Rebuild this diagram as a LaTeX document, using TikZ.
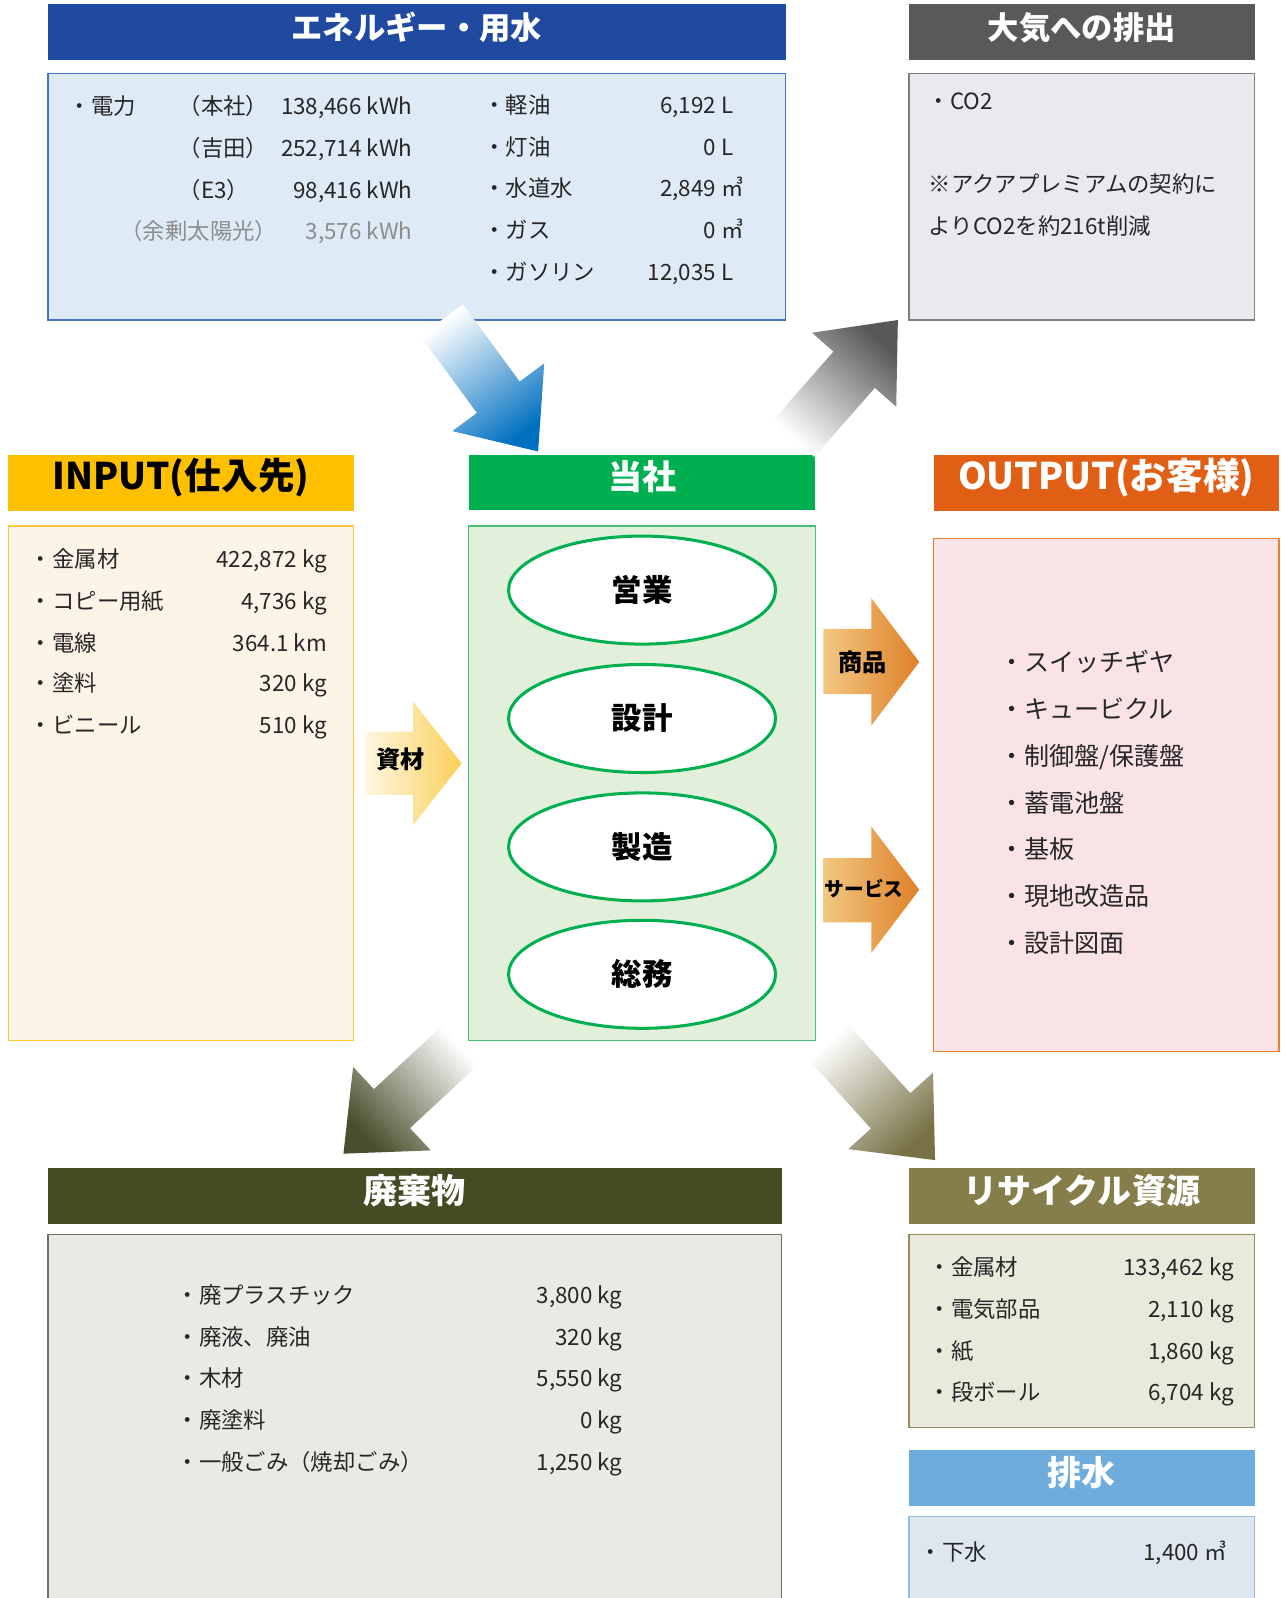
\documentclass[tikz,border=0pt]{standalone}
\usepackage{fontspec}
\setmainfont{Noto Sans CJK JP}
\usetikzlibrary{shapes.geometric}

\definecolor{engblue}{RGB}{32,73,160}
\definecolor{engline}{RGB}{68,114,196}
\definecolor{engfill}{RGB}{222,234,246}
\definecolor{airgray}{RGB}{89,89,89}
\definecolor{airline}{RGB}{127,127,127}
\definecolor{airfill}{RGB}{233,233,239}
\definecolor{inyellow}{RGB}{255,192,0}
\definecolor{inline}{RGB}{255,200,60}
\definecolor{infill}{RGB}{253,243,231}
\definecolor{cogreen}{RGB}{0,176,80}
\definecolor{coline}{RGB}{70,190,115}
\definecolor{cofill}{RGB}{226,239,218}
\definecolor{outorange}{RGB}{225,95,20}
\definecolor{outline}{RGB}{237,125,49}
\definecolor{outfill}{RGB}{250,227,230}
\definecolor{wasteolive}{RGB}{69,76,36}
\definecolor{wasteline}{RGB}{110,115,85}
\definecolor{wastefill}{RGB}{232,235,229}
\definecolor{recyolive}{RGB}{133,125,74}
\definecolor{recyline}{RGB}{150,140,90}
\definecolor{recyfill}{RGB}{233,234,220}
\definecolor{waterblue}{RGB}{111,172,222}
\definecolor{waterline}{RGB}{140,190,235}
\definecolor{waterfill}{RGB}{222,230,239}
\definecolor{inkgray}{RGB}{38,38,38}
\definecolor{surplus}{RGB}{140,140,140}
\definecolor{arrblue}{RGB}{0,112,192}
\definecolor{arrgray}{RGB}{88,88,88}
\definecolor{arrwaste}{RGB}{72,80,45}
\definecolor{arrrecy}{RGB}{120,114,70}

\begin{document}
\begin{tikzpicture}[x=0.02cm, y=-0.02cm,
  bar/.style={inner sep=0pt, outer sep=0pt, text=white, text height=0.92em, text depth=0.1em, font=\bfseries\fontsize{19}{22}\selectfont},
  panel/.style={draw, line width=0.7pt, inner sep=0pt, outer sep=0pt},
  entry/.style={anchor=west, inner sep=0pt, text=inkgray, text height=1em, text depth=0em, font=\fontsize{12.5}{15}\selectfont},
  amount/.style={entry, anchor=east},
  goods/.style={entry, font=\fontsize{14}{17}\selectfont},
  dept/.style={ellipse, draw=cogreen, line width=1.7pt, fill=white, inner sep=0pt, minimum width=5.24cm, minimum height=2.12cm, font=\bfseries\fontsize{17}{20}\selectfont},
  tag/.style={inner sep=0pt, font=\bfseries\fontsize{13.5}{16}\selectfont}]

\fill[white] (0,0) rectangle (1256,1568);
\useasboundingbox (0,0) rectangle (1256,1568);

% energy and water in
\node[bar, fill=engblue, minimum width=14.48cm, minimum height=1.1cm, font=\bfseries\fontsize{17.5}{20}\selectfont] (enghdr) at (409,31.5) {エネルギー・用水};
\node[panel, draw=engline, fill=engfill, minimum width=14.48cm, minimum height=4.84cm] (engbox) at (409,193) {};
\node[entry] (pw) at (67,104) {・電力};
\node[entry] (pw1) at (175,104) {（本社）};
\node[amount] (pw1v) at (405,104) {138,466 kWh};
\node[entry] (pw2) at (175,145) {（吉田）};
\node[amount] (pw2v) at (405,145) {252,714 kWh};
\node[entry] (pw3) at (175,186) {（E3）};
\node[amount] (pw3v) at (405,186) {98,416 kWh};
\node[entry, text=surplus] (pw4) at (118,226) {（余剰太陽光）};
\node[amount, text=surplus] (pw4v) at (405,226) {3,576 kWh};
\node[entry] (fu1) at (474,103) {・軽油};
\node[amount] (fu1v) at (720,103) {6,192 L};
\node[entry] (fu2) at (474,144) {・灯油};
\node[amount] (fu2v) at (720,144) {0 L};
\node[entry] (fu3) at (474,184) {・水道水};
\node[amount] (fu3v) at (730,184) {2,849 ㎥};
\node[entry] (fu4) at (474,225) {・ガス};
\node[amount] (fu4v) at (730,225) {0 ㎥};
\node[entry] (fu5) at (474,266) {・ガソリン};
\node[amount] (fu5v) at (720,266) {12,035 L};

% air
\node[bar, fill=airgray, minimum width=6.78cm, minimum height=1.1cm, font=\bfseries\fontsize{17.5}{20}\selectfont] (airhdr) at (1061.5,31.5) {大気への排出};
\node[panel, draw=airline, fill=airfill, minimum width=6.78cm, minimum height=4.84cm] (airbox) at (1061.5,193) {};
\node[entry] (co2) at (910,99) {・CO2};
\node[entry] (note1) at (911,180) {※アクアプレミアムの契約に};
\node[entry] (note2) at (911,221) {よりCO2を約216t削減};

% input
\node[bar, fill=inyellow, text=black, minimum width=6.78cm, minimum height=1.1cm, font=\bfseries\fontsize{20.5}{24}\selectfont] (inhdr) at (177.5,473.5) {INPUT(仕入先)};
\node[panel, draw=inline, fill=infill, minimum width=6.78cm, minimum height=10.1cm] (inbox) at (177.5,768.5) {};
\node[entry] (in1) at (29,548) {・金属材};
\node[amount] (in1v) at (321,548) {422,872 kg};
\node[entry] (in2) at (29,589) {・コピー用紙};
\node[amount] (in2v) at (321,589) {4,736 kg};
\node[entry] (in3) at (29,630) {・電線};
\node[amount] (in3v) at (321,630) {364.1 km};
\node[entry] (in4) at (29,670) {・塗料};
\node[amount] (in4v) at (321,670) {320 kg};
\node[entry] (in5) at (29,711) {・ビニール};
\node[amount] (in5v) at (321,711) {510 kg};

% company
\node[bar, fill=cogreen, minimum width=6.8cm, minimum height=1.08cm] (cohdr) at (630,473) {当社};
\node[panel, draw=coline, fill=cofill, minimum width=6.8cm, minimum height=10.1cm] (cobox) at (630,768.5) {};
\node[dept] (sales) at (630,579) {営業};
\node[dept] (design) at (630,705) {設計};
\node[dept] (mfg) at (630,831) {製造};
\node[dept] (admin) at (630,956) {総務};

% output
\node[bar, fill=outorange, minimum width=6.78cm, minimum height=1.1cm, font=\bfseries\fontsize{20.5}{24}\selectfont] (outhdr) at (1085.5,473.5) {OUTPUT(お客様)};
\node[panel, draw=outline, fill=outfill, minimum width=6.78cm, minimum height=10.08cm] (outbox) at (1085.5,780) {};
\node[goods] (out1) at (980,650) {・スイッチギヤ};
\node[goods] (out2) at (980,696) {・キュービクル};
\node[goods] (out3) at (980,742) {・制御盤/保護盤};
\node[goods] (out4) at (980,788) {・蓄電池盤};
\node[goods] (out5) at (980,834) {・基板};
\node[goods] (out6) at (980,880) {・現地改造品};
\node[goods] (out7) at (980,926) {・設計図面};

% waste
\node[bar, fill=wasteolive, minimum width=14.4cm, minimum height=1.1cm] (wastehdr) at (407,1173.5) {廃棄物};
\node[panel, draw=wasteline, fill=wastefill, minimum width=14.4cm, minimum height=7.28cm] (wastebox) at (407,1393) {};
\node[entry] (ws1) at (173,1270) {・廃プラスチック};
\node[amount] (ws1v) at (611,1270) {3,800 kg};
\node[entry] (ws2) at (173,1311) {・廃液、廃油};
\node[amount] (ws2v) at (611,1311) {320 kg};
\node[entry] (ws3) at (173,1352) {・木材};
\node[amount] (ws3v) at (611,1352) {5,550 kg};
\node[entry] (ws4) at (173,1393) {・廃塗料};
\node[amount] (ws4v) at (611,1393) {0 kg};
\node[entry] (ws5) at (173,1434) {・一般ごみ（焼却ごみ）};
\node[amount] (ws5v) at (611,1434) {1,250 kg};

% recycle
\node[bar, fill=recyolive, minimum width=6.78cm, minimum height=1.1cm] (recyhdr) at (1061.5,1173.5) {リサイクル資源};
\node[panel, draw=recyline, fill=recyfill, minimum width=6.78cm, minimum height=3.8cm] (recybox) at (1061.5,1306) {};
\node[entry] (rc1) at (911,1243) {・金属材};
\node[amount] (rc1v) at (1211,1243) {133,462 kg};
\node[entry] (rc2) at (911,1284) {・電気部品};
\node[amount] (rc2v) at (1211,1284) {2,110 kg};
\node[entry] (rc3) at (911,1325) {・紙};
\node[amount] (rc3v) at (1211,1325) {1,860 kg};
\node[entry] (rc4) at (911,1365) {・段ボール};
\node[amount] (rc4v) at (1211,1365) {6,704 kg};

% drain
\node[bar, fill=waterblue, minimum width=6.78cm, minimum height=1.1cm] (waterhdr) at (1061.5,1450.5) {排水};
\node[panel, draw=waterline, fill=waterfill, minimum width=6.78cm, minimum height=1.74cm] (waterbox) at (1061.5,1531.5) {};
\node[entry] (sewer) at (902,1522) {・下水};
\node[amount] (sewerv) at (1204,1522) {1,400 ㎥};

% diagonal arrows
\shade[top color=white, bottom color=arrblue, shading angle=36] (412.3,329.4) -- (468,405.2) -- (443.8,423) -- (528,443) -- (534,356.6) -- (509.9,374.4) -- (454.3,298.6) -- cycle;
\shade[top color=white, bottom color=arrgray, shading angle=139] (799,448.2) -- (858.4,380.6) -- (879.4,399.1) -- (881,314) -- (796.8,326.5) -- (817.8,345) -- (758.4,412.6) -- cycle;
\shade[top color=white, bottom color=arrwaste, shading angle=-47] (434.4,1006.1) -- (366.9,1068.7) -- (346.5,1046.8) -- (337,1132) -- (422.7,1128.8) -- (402.3,1106.9) -- (469.8,1044.3) -- cycle;
\shade[top color=white, bottom color=arrrecy, shading angle=42] (792.3,1038.3) -- (854.6,1107.4) -- (832.3,1127.5) -- (917.5,1138.3) -- (915.5,1052.5) -- (893.2,1072.6) -- (830.9,1003.5) -- cycle;

% side arrows
\shade[left color={rgb,255:red,255;green,247;blue,225}, right color={rgb,255:red,250;green,208;blue,90}] (358,718) -- (405,718) -- (405,688) -- (453,749) -- (405,810) -- (405,780) -- (358,780) -- cycle;
\shade[left color={rgb,255:red,242;green,200;blue,130}, right color={rgb,255:red,222;green,128;blue,40}] (808,617) -- (855,617) -- (855,587) -- (902,649.5) -- (855,712) -- (855,681) -- (808,681) -- cycle;
\shade[left color={rgb,255:red,242;green,200;blue,130}, right color={rgb,255:red,222;green,128;blue,40}] (808,842) -- (855,842) -- (855,811) -- (902,873) -- (855,935) -- (855,905) -- (808,905) -- cycle;
\node[tag] (zai) at (393,745) {資材};
\node[tag] (shohin) at (846,650) {商品};
\node[tag, font=\bfseries\fontsize{11}{13}\selectfont] (svc) at (848,872) {サービス};
\end{tikzpicture}
\end{document}
